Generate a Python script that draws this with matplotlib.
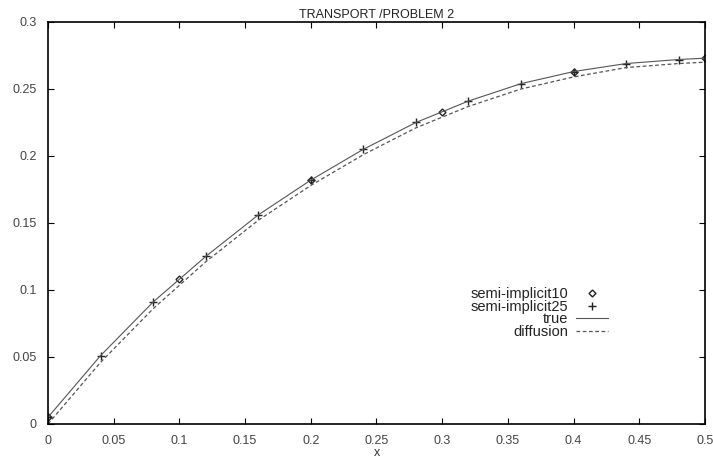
import matplotlib.pyplot as plt

# values
x_grid = [0.0, 0.04, 0.08, 0.12, 0.16, 0.20, 0.24, 0.28, 0.32, 0.36, 0.40, 0.44, 0.48, 0.50]
true_vals = [0.005, 0.051, 0.091, 0.125, 0.156, 0.182, 0.205, 0.225, 0.241, 0.254, 0.263, 0.269, 0.272, 0.273]
diffusion_vals = [0.000, 0.046, 0.086, 0.121, 0.152, 0.178, 0.201, 0.221, 0.237, 0.250, 0.259, 0.266, 0.269, 0.270]

x_si10 = [0.0, 0.1, 0.2, 0.3, 0.4, 0.5]
y_si10 = [0.005, 0.108, 0.182, 0.233, 0.263, 0.273]

x_si25 = [0.0, 0.04, 0.08, 0.12, 0.16, 0.20, 0.24, 0.28, 0.32, 0.36, 0.40, 0.44, 0.48]
y_si25 = [0.005, 0.051, 0.091, 0.125, 0.156, 0.182, 0.205, 0.225, 0.241, 0.254, 0.263, 0.269, 0.272]

x_ticks = [0, 0.05, 0.1, 0.15, 0.2, 0.25, 0.3, 0.35, 0.4, 0.45, 0.5]
x_tick_labels = ["0", "0.05", "0.1", "0.15", "0.2", "0.25", "0.3", "0.35", "0.4", "0.45", "0.5"]
y_ticks = [0, 0.05, 0.1, 0.15, 0.2, 0.25, 0.3]
y_tick_labels = ["0", "0.05", "0.1", "0.15", "0.2", "0.25", "0.3"]

plt.rcParams["font.family"] = ["Liberation Sans", "DejaVu Sans"]

fig = plt.figure(figsize=(7.13, 4.61), dpi=100)
ax = fig.add_axes([0.0673, 0.0803, 0.9215, 0.872])

ax.plot(x_si10, y_si10, linestyle="none", marker="D", markersize=3.5, markerfacecolor="none",
        markeredgecolor="#222222", markeredgewidth=1.0, label="semi-implicit10")
ax.plot(x_si25, y_si25, linestyle="none", marker="+", markersize=6,
        color="#222222", markeredgewidth=1.0, label="semi-implicit25")
ax.plot(x_grid, true_vals, color="#555555", linewidth=0.8, label="true")
ax.plot(x_grid, diffusion_vals, color="#555555", linewidth=0.9, linestyle=(0, (3, 2)), label="diffusion")

ax.set_xlim(0, 0.5)
ax.set_ylim(0, 0.3)
ax.set_xticks(x_ticks)
ax.set_xticklabels(x_tick_labels)
ax.set_yticks(y_ticks)
ax.set_yticklabels(y_tick_labels)
ax.tick_params(direction="in", length=4, width=0.8, top=True, right=True,
               labelsize=9, labelcolor="#444444", pad=8)
for side in ax.spines.values():
    side.set_linewidth(1.2)

ax.set_title("TRANSPORT /PROBLEM 2", fontsize=9, color="#222222", pad=3)
ax.set_xlabel("x", fontsize=9, color="#333333", labelpad=0)

ax.legend(loc="upper right", bbox_to_anchor=(0.852, 0.34), markerfirst=False, frameon=False,
          fontsize=10.5, handlelength=2.2, handletextpad=0.5, labelspacing=-0.1,
          borderpad=0, borderaxespad=0, labelcolor="#222222")

fig.savefig("out.png", dpi=100)
